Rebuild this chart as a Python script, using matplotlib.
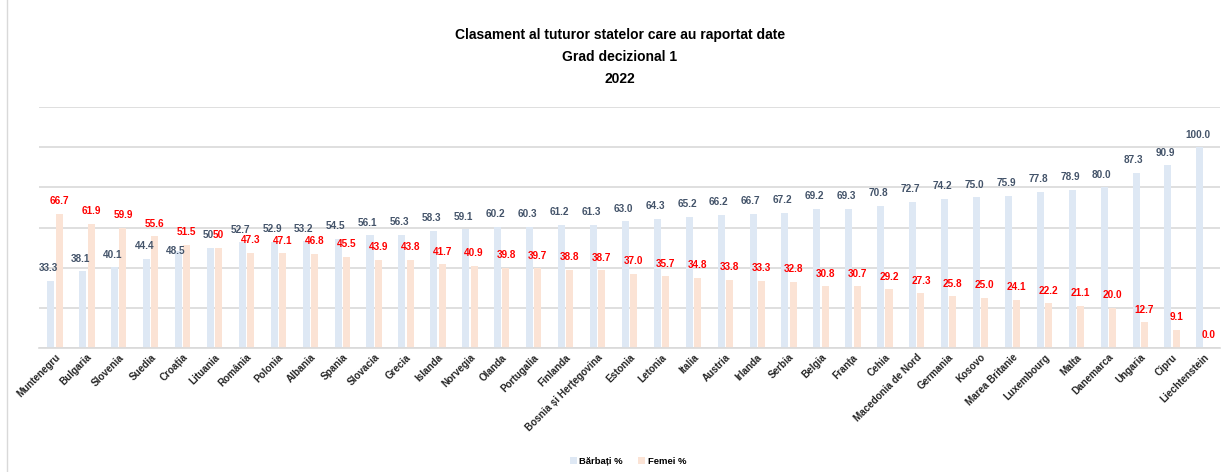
import matplotlib
matplotlib.use("Agg")
import matplotlib.pyplot as plt
import numpy as np
from matplotlib.lines import Line2D
from matplotlib.patches import Patch

plt.rcParams["font.family"] = ["Liberation Sans Narrow", "Liberation Sans", "DejaVu Sans"]

tari = [
    "Muntenegru", "Bulgaria", "Slovenia", "Suedia", "Croația", "Lituania",
    "România", "Polonia", "Albania", "Spania", "Slovacia", "Grecia",
    "Islanda", "Norvegia", "Olanda", "Portugalia", "Finlanda",
    "Bosnia și Herțegovina", "Estonia", "Letonia", "Italia", "Austria",
    "Irlanda", "Serbia", "Belgia", "Franța", "Cehia", "Macedonia de Nord",
    "Germania", "Kosovo", "Marea Britanie", "Luxembourg", "Malta",
    "Danemarca", "Ungaria", "Cipru", "Liechtenstein",
]
barbati = [
    33.3, 38.1, 40.1, 44.4, 48.5, 50, 52.7, 52.9, 53.2, 54.5, 56.1, 56.3,
    58.3, 59.1, 60.2, 60.3, 61.2, 61.3, 63.0, 64.3, 65.2, 66.2, 66.7, 67.2,
    69.2, 69.3, 70.8, 72.7, 74.2, 75.0, 75.9, 77.8, 78.9, 80.0, 87.3, 90.9,
    100.0,
]
femei = [
    66.7, 61.9, 59.9, 55.6, 51.5, 50, 47.3, 47.1, 46.8, 45.5, 43.9, 43.8,
    41.7, 40.9, 39.8, 39.7, 38.8, 38.7, 37.0, 35.7, 34.8, 33.8, 33.3, 32.8,
    30.8, 30.7, 29.2, 27.3, 25.8, 25.0, 24.1, 22.2, 21.1, 20.0, 12.7, 9.1,
    0.0,
]


def eticheta(v):
    return "50" if v == 50 else f"{v:.1f}"


col_b = "#DEE8F4"
col_f = "#FBE3D5"

fig = plt.figure(figsize=(12.21, 4.72), dpi=100)
# chenarul din stanga al graficului
fig.lines.append(Line2D([6.5 / 1221, 6.5 / 1221], [0, 1], transform=fig.transFigure,
                        color="#D9D9D9", linewidth=1))
ax = fig.add_axes([39 / 1221, 124 / 472, 1181 / 1221, 241 / 472])

x = np.arange(len(tari))
w = 0.22
ax.bar(x - 0.13, barbati, w, color=col_b, zorder=2)
ax.bar(x + 0.13, femei, w, color=col_f, zorder=2)

for i in range(len(tari)):
    # ca in Excel: eticheta albastra coboara cand s-ar suprapune cu cea rosie
    if 0 < femei[i] - barbati[i] < 5:
        ax.text(x[i] - 0.22, barbati[i], eticheta(barbati[i]), ha="center", va="center",
                fontsize=7.2, fontweight="bold", color="#44546A", zorder=3)
    else:
        ax.text(x[i] - 0.2, barbati[i] + 3.8, eticheta(barbati[i]), ha="center", va="bottom",
                fontsize=7.2, fontweight="bold", color="#44546A", zorder=3)
    ax.text(x[i] + 0.13, femei[i] + 3.8, eticheta(femei[i]), ha="center", va="bottom",
            fontsize=7.2, fontweight="bold", color="#FF0000", zorder=3)

ax.set_xlim(-0.5, len(tari) - 0.5)
ax.set_ylim(0, 120)
ax.set_yticks(np.arange(0, 121, 20))
ax.yaxis.grid(True, color="#D9D9D9", linewidth=1.2, zorder=0)
ax.set_axisbelow(True)
ax.tick_params(axis="y", left=False, labelleft=False)
ax.tick_params(axis="x", length=0, pad=3)
for s in ["top", "right", "left"]:
    ax.spines[s].set_visible(False)
ax.spines["bottom"].set_color("#D9D9D9")
ax.spines["bottom"].set_linewidth(1.2)

ax.set_xticks(x)
ax.set_xticklabels(tari, rotation=45, ha="right", rotation_mode="anchor",
                   fontsize=7.1, fontweight="bold", color="#262626")

titlu = ["Clasament al tuturor statelor care au raportat date", "Grad decizional 1", "2022"]
for k, rand in enumerate(titlu):
    fig.text(620 / 1221, 1 - (35 + 22 * k) / 472, rand,
             ha="center", va="center", fontsize=10, fontweight="bold", color="#000000")

handles = [Patch(facecolor=col_b, label="Bărbați %"), Patch(facecolor=col_f, label="Femei %")]
fig.legend(handles=handles, loc="center", bbox_to_anchor=(628 / 1221, 1 - 461 / 472), ncol=2,
           frameon=False, handlelength=0.7, handleheight=0.7,
           columnspacing=1.6, handletextpad=0.3, prop={"weight": "bold", "size": 6.8})

fig.savefig("out.png", dpi=100)
